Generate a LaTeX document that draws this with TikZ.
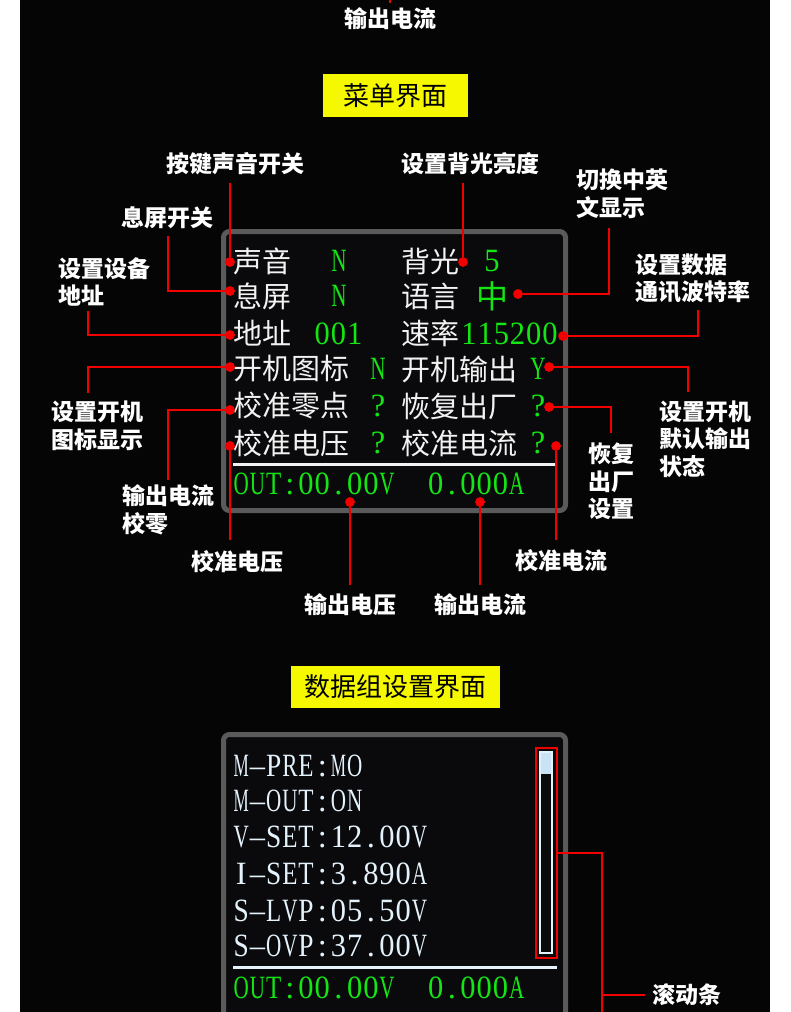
\documentclass[tikz,border=0pt]{standalone}
\usepackage{fontspec}
\usepackage{graphicx}
\setmainfont{Liberation Serif}
\newfontfamily\cjk{Noto Sans CJK SC}
\newfontfamily\lcd{Liberation Serif}
\definecolor{lred}{HTML}{F20000}
\definecolor{lgreen}{HTML}{14E614}
\definecolor{bgblack}{HTML}{050505}
\definecolor{scrgray}{HTML}{5A5A5A}
\definecolor{scrfill}{HTML}{0A0A0C}
\definecolor{scrwhite}{HTML}{F2F2F2}
\definecolor{pale}{HTML}{E4F2FC}
\definecolor{palefill}{HTML}{C8E2F6}
\definecolor{ybox}{HTML}{F6F800}
\newlength\monow \setlength\monow{16.2pt}
\newsavebox\monobox
\def\monocell#1{\sbox\monobox{#1}\ifdim\wd\monobox>0.94\monow
  \makebox[\monow]{\resizebox{0.94\monow}{\height}{\usebox\monobox}}\else
  \makebox[\monow]{\usebox\monobox}\fi}
\def\monoloop#1{\ifx#1\relax\else\monocell{#1}\expandafter\monoloop\fi}
\newcommand\mono[1]{\monoloop#1\relax}
\newcommand\labfont{\cjk\bfseries\fontsize{23}{27.7}\selectfont}
\newcommand\scnfont{\cjk\fontsize{29}{29}\selectfont}
\newcommand\lcdfont{\lcd\fontsize{32.5}{32.5}\selectfont}
\begin{document}
\begin{tikzpicture}[x=1pt,y=-1pt,
  conn/.style={draw=lred, line width=2.2pt},
  reddot/.style={circle, fill=lred, inner sep=0pt, minimum size=9.5pt},
  lab/.style={text=white, font=\labfont, inner sep=0pt, align=left},
  scn/.style={text=scrwhite, font=\scnfont, inner sep=0pt, anchor=west},
  val/.style={text=lgreen, font=\lcdfont, inner sep=0pt},
  pal/.style={text=pale, font=\lcdfont, inner sep=0pt, anchor=west},
  title/.style={fill=ybox, text=black, font=\cjk\fontsize{26}{26}\selectfont, inner sep=0pt},
  frame/.style={draw=scrgray, line width=5pt, fill=scrfill, rounded corners=6pt}]
\useasboundingbox (0,0) rectangle (790,1012);
\clip (0,0) rectangle (790,1012);
\fill[white] (0,0) rectangle (790,1012);
\fill[bgblack] (20,0) rectangle (770,1012);

% top remnant
\coordinate (top0) at (390,-5);
\coordinate (top1) at (390,3);
\draw[conn] (top0) -- (top1);
\node[lab] (ltop) at (390,19) {输出电流};

% ===== menu screen =====
\node[title, minimum width=145pt, minimum height=43pt] (t1) at (395.5,95.5) {菜单界面};
\draw[frame] (223.5,231.5) rectangle (565.5,510.5);

\node[scn] (s11) at (233,261) {声音};
\node[scn] (s21) at (233,296) {息屏};
\node[scn] (s31) at (233,333) {地址};
\node[scn] (s41) at (233,369) {开机图标};
\node[scn] (s51) at (233,406) {校准零点};
\node[scn] (s61) at (233,443) {校准电压};
\node[scn] (s12) at (401,261) {背光};
\node[scn] (s22) at (401,296) {语言};
\node[scn] (s32) at (401,333) {速率};
\node[scn] (s42) at (401,369) {开机输出};
\node[scn] (s52) at (401,406) {恢复出厂};
\node[scn] (s62) at (401,443) {校准电流};

\node[val] (v11) at (339,261) {\mono{N}};
\node[val] (v21) at (339,296) {\mono{N}};
\node[val] (v31) at (338.5,334) {\mono{001}};
\node[val] (v41) at (378,369) {\mono{N}};
\node[val] (v51) at (378,406) {\mono{?}};
\node[val] (v61) at (378,443) {\mono{?}};
\node[val] (v12) at (492,261) {\mono{5}};
\node[val, font=\cjk\fontsize{32}{32}\selectfont] (v22) at (492,296) {中};
\node[val] (v32) at (509.5,334) {\mono{115200}};
\node[val] (v42) at (538,369) {\mono{Y}};
\node[val] (v52) at (538,406) {\mono{?}};
\node[val] (v62) at (538,443) {\mono{?}};

\coordinate (sepA) at (233,464);
\coordinate (sepB) at (555,464);
\draw[scrwhite, line width=3pt] (sepA) -- (sepB);
\node[val, anchor=west] (out1) at (233,484) {\mono{OUT:00.00V~~0.000A}};

% dots
\node[reddot] (dA) at (230,262) {};
\node[reddot] (dB) at (230,291) {};
\node[reddot] (dC) at (230,335) {};
\node[reddot] (dD) at (230,367) {};
\node[reddot] (dE) at (230,410) {};
\node[reddot] (dF) at (230,446) {};
\node[reddot] (dG) at (350,502) {};
\node[reddot] (dH) at (480,502) {};
\node[reddot] (dI) at (556,446) {};
\node[reddot] (dJ) at (549,407) {};
\node[reddot] (dK) at (549,367) {};
\node[reddot] (dL) at (563,336) {};
\node[reddot] (dM) at (518,294) {};
\node[reddot] (dN) at (463,262) {};

% labels
\node[lab] (lA) at (235,164) {按键声音开关};
\node[lab] (lN) at (470,164) {设置背光亮度};
\node[lab] (lB) at (167,218) {息屏开关};
\node[lab, anchor=west] (lC) at (58,282) {设置设备\\地址};
\node[lab, anchor=west] (lD) at (51,425.5) {设置开机\\图标显示};
\node[lab, anchor=west] (lE) at (122,510) {输出电流\\校零};
\node[lab] (lF) at (237.5,562) {校准电压};
\node[lab] (lG) at (350,605) {输出电压};
\node[lab] (lH) at (480,605) {输出电流};
\node[lab] (lI) at (561,561) {校准电流};
\node[lab, anchor=west] (lJ) at (588,481.5) {恢复\\出厂\\设置};
\node[lab, anchor=west] (lK) at (659,439) {设置开机\\默认输出\\状态};
\node[lab, anchor=west] (lL) at (635,278.5) {设置数据\\通讯波特率};
\node[lab, anchor=west] (lM) at (576,194) {切换中英\\文显示};

% connector ends
\coordinate (cA) at (230,183);
\coordinate (cB) at (168,236);
\coordinate (cC) at (88,311);
\coordinate (cD) at (88,393);
\coordinate (cE) at (168,480);
\coordinate (cF) at (230,540);
\coordinate (cG) at (350,585);
\coordinate (cH) at (480,585);
\coordinate (cI) at (556,540);
\coordinate (cJ) at (611,433);
\coordinate (cK) at (688,392);
\coordinate (cL) at (698,310);
\coordinate (cM) at (609,228);
\coordinate (cN) at (463,183);

\draw[conn] (dA) -- (cA);
\draw[conn] (dB.center) -| (cB);
\draw[conn] (dC.center) -| (cC);
\draw[conn] (dD.center) -| (cD);
\draw[conn] (dE.center) -| (cE);
\draw[conn] (dF) -- (cF);
\draw[conn] (dG) -- (cG);
\draw[conn] (dH) -- (cH);
\draw[conn] (dI) -- (cI);
\draw[conn] (dJ.center) -| (cJ);
\draw[conn] (dK.center) -| (cK);
\draw[conn] (dL.center) -| (cL);
\draw[conn] (dM.center) -| (cM);
\draw[conn] (dN) -- (cN);
\foreach \d in {dA,dB,dC,dD,dE,dF,dG,dH,dI,dJ,dK,dL,dM,dN}
  \fill[lred] (\d) circle (4.75pt);

% ===== data group screen =====
\node[title, minimum width=209pt, minimum height=42pt] (t2) at (395.5,687) {数据组设置界面};
\draw[frame] (223.5,734.5) rectangle (565.5,1040);

\node[pal] (p1) at (233,766) {\mono{M\textendash PRE:MO}};
\node[pal] (p2) at (233,801) {\mono{M\textendash OUT:ON}};
\node[pal] (p3) at (233,837) {\mono{V\textendash SET:12.00V}};
\node[pal] (p4) at (233,874) {\mono{I\textendash SET:3.890A}};
\node[pal] (p5) at (233,911) {\mono{S\textendash LVP:05.50V}};
\node[pal] (p6) at (233,946) {\mono{S\textendash OVP:37.00V}};
\coordinate (sepC) at (233,967);
\coordinate (sepD) at (557,967);
\draw[pale, line width=3pt] (sepC) -- (sepD);
\node[val, anchor=west] (out2) at (233,988) {\mono{OUT:00.00V~~0.000A}};

% scrollbar
\fill[palefill] (539,751) rectangle (553,774);
\draw[pale, line width=2.4pt] (540.2,752.2) rectangle (551.8,952.8);
\node[draw=lred, line width=2.2pt, minimum width=21pt, minimum height=210pt, inner sep=0pt] (sb) at (546.5,853) {};
\node[lab] (lS) at (687,995) {滚动条};
\coordinate (cS1) at (602,853);
\coordinate (cS2) at (602,1030);
\coordinate (cS3) at (602,995);
\coordinate (cS4) at (645,995);
\draw[conn] (sb.east) -- (cS1) -- (cS2);
\draw[conn] (cS3) -- (cS4);
\end{tikzpicture}
\end{document}
